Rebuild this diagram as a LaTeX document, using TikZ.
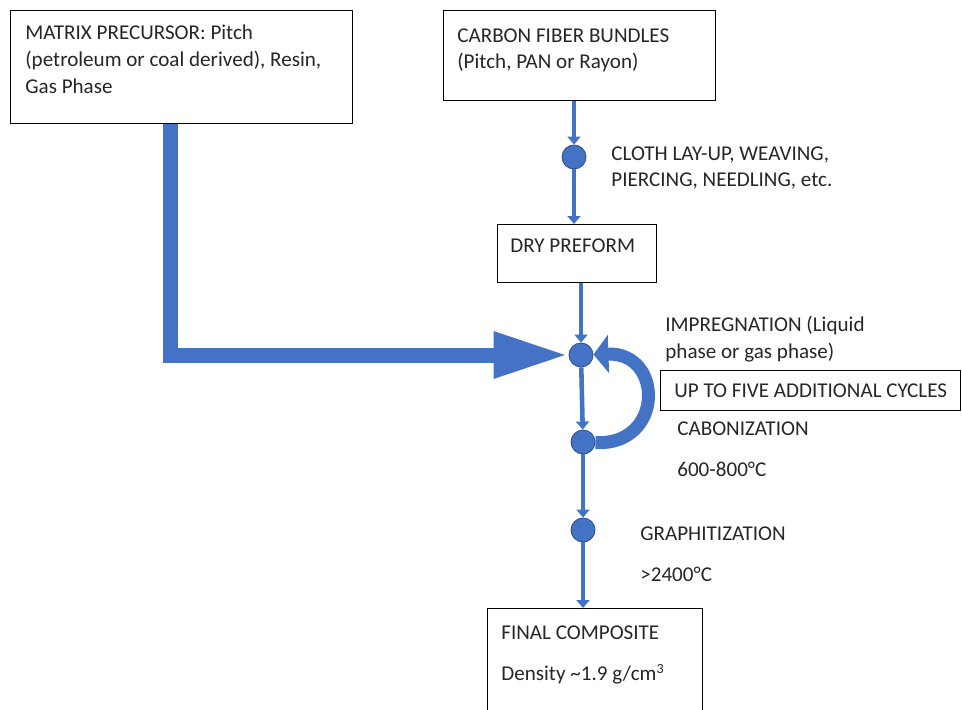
\documentclass[tikz,border=0pt]{standalone}
\usepackage{fontspec}
\setmainfont{Carlito}
\usetikzlibrary{arrows.meta}
\definecolor{fillblue}{HTML}{4472C4}
\definecolor{edgeblue}{HTML}{2F528F}
\definecolor{textgrey}{HTML}{262626}

\begin{document}
\begin{tikzpicture} [
    x=0.02cm, y=-0.02cm,
    font=\fontsize{12}{15.3}\selectfont,
    block/.style    = { rectangle, draw=black, line width=0.6pt,
                        anchor=north west, inner sep=0pt },
    txt/.style      = { anchor=north west, inner sep=0pt, align=left,
                        text=textgrey },
    stage/.style    = { circle, fill=fillblue, draw=edgeblue, line width=0.5pt,
                        minimum size=0.48cm, inner sep=0pt },
    line/.style     = { draw=fillblue, line width=2.6pt,
                        -{Triangle[length=0.16cm,width=0.26cm]} },
    feed/.style     = { draw=fillblue, line width=0.3cm,
                        -{Triangle[length=1.5cm,width=0.86cm]} },
    loopback/.style = { draw=fillblue, line width=0.26cm,
                        -{Triangle[length=0.3cm,width=0.75cm]} },
  ]

  \useasboundingbox (0,0) rectangle (962,709);

  % Define boxes
  \node[block, minimum width=6.84cm, minimum height=2.26cm] (precursor) at (10,10) {};
  \node[block, minimum width=5.44cm, minimum height=1.8cm] (fibre) at (443,10) {};
  \node[block, minimum width=3.18cm, minimum height=1.16cm] (preform) at (497,224) {};
  \node[block, minimum width=6.0cm, minimum height=0.8cm] (cycles) at (660,370) {};
  \node[block, minimum width=4.3cm, minimum height=2.6cm] (final) at (487,608) {};

  % box texts
  \node[txt] (precursortxt) at ([shift={(15,15)}]precursor.north west)
    {MATRIX PRECURSOR: Pitch\\(petroleum or coal derived), Resin,\\Gas Phase};
  \node[txt] (fibretxt) at ([shift={(14,18)}]fibre.north west)
    {CARBON FIBER BUNDLES\\(Pitch, PAN or Rayon)};
  \node[txt] (preformtxt) at ([shift={(13,14)}]preform.north west) {DRY PREFORM};
  \node[txt] (cyclestxt) at ([shift={(14,13)}]cycles.north west)
    {UP TO FIVE ADDITIONAL CYCLES};
  \node[txt] (finaltxt) at ([shift={(14,17)}]final.north west)
    {FINAL COMPOSITE\\[8.5pt]Density \textasciitilde1.9 g/cm\textsuperscript{3}};

  % process steps
  \node[stage] (layup) at (574,157) {};
  \node[stage] (impreg) at (581,355) {};
  \node[stage] (carbon) at (583,442) {};
  \node[stage] (graph) at (583,530) {};

  \node[txt] (layuptxt) at (611,146) {CLOTH LAY-UP, WEAVING,\\PIERCING, NEEDLING, etc.};
  \node[txt] (impregtxt) at (665,316) {IMPREGNATION (Liquid\\phase or gas phase)};
  \node[txt] (carbontxt) at (677,421) {CABONIZATION\\[8.5pt]600-800°C};
  \node[txt] (graphtxt) at (640,526) {GRAPHITIZATION\\[8.5pt]>2400°C};

  % connect the nodes
  \path [line] (fibre.south -| layup) -- (layup);
  \path [line] (layup) -- (layup |- preform.north);
  \path [line] (preform.south -| impreg) -- (impreg);
  \path [line] (impreg) -- (carbon);
  \path [line] (carbon) -- (graph);
  \path [line] (graph) -- (graph |- final.north);
  \path [feed] ([xshift=3.22cm]precursor.south west) |- (impreg);
  \path [loopback] (carbon) .. controls (664,446) and (664,352) .. (impreg);
\end{tikzpicture}
\end{document}
